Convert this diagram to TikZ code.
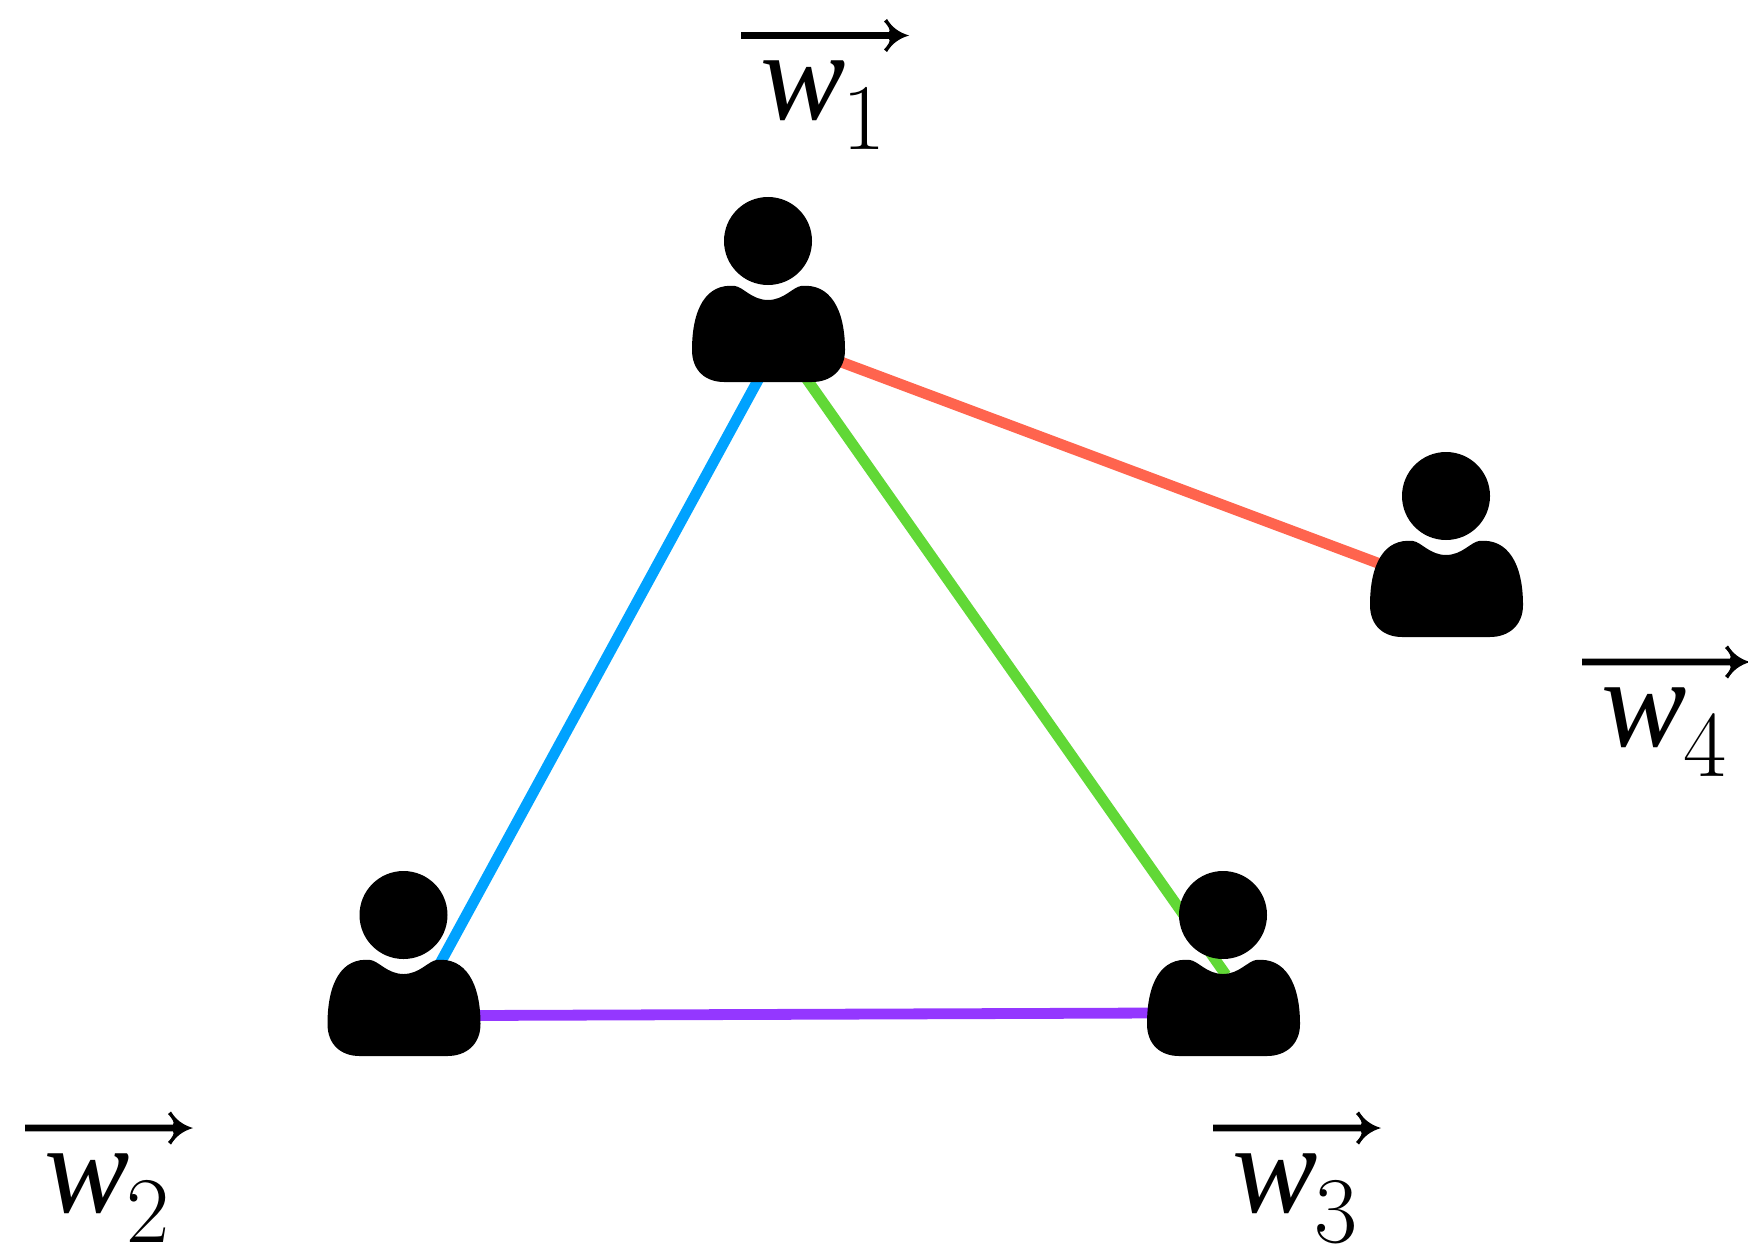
\documentclass[tikz,border=0pt]{standalone}
\usepackage{fontspec}
\newfontfamily\wfont{Liberation Serif Italic}
\definecolor{eblue}{HTML}{00A2FF}
\definecolor{egreen}{HTML}{61D836}
\definecolor{ered}{HTML}{FF644E}
\definecolor{epurple}{HTML}{9437FF}
\tikzset{
  spot/.style={inner sep=0pt,minimum size=0pt,outer sep=0pt},
  edgeline/.style={line width=5.4pt,line cap=butt},
  wtext/.style={inner sep=0pt,outer sep=0pt,anchor=base west,font=\fontsize{64}{70}\wfont},
  subtext/.style={inner sep=0pt,outer sep=0pt,anchor=base west,font=\fontsize{47}{52}\selectfont},
  person/.pic={
    \fill (0,0) circle[radius=44];
    \fill (-33,45) .. controls (-25,46) and (-16,59) .. (0,59)
      .. controls (16,59) and (25,46) .. (33,45)
      .. controls (62,42) and (77,68) .. (77,109)
      .. controls (77,130) and (62,141) .. (44,141)
      -- (-44,141)
      .. controls (-62,141) and (-76,130) .. (-76,109)
      .. controls (-76,68) and (-62,42) .. (-33,45) -- cycle;
  },
  pics/wlabel/.style={code={
    \fill (0,-3.4) -- (148,-3.4) .. controls (150,-5) and (147,-10) .. (143,-14)
      -- (146,-16.5) .. controls (151,-8) and (158,-3) .. (168,0)
      .. controls (158,3) and (151,8) .. (146,16.5)
      -- (143,14) .. controls (147,10) and (150,5) .. (148,3.4) -- (0,3.4) -- cycle;
    \node[wtext] (w) at (19,84) {w};
    \node[subtext] (s) at (101,114) {#1};
  }}
}
\begin{document}
\begin{tikzpicture}[x=0.5pt,y=-0.5pt]
\useasboundingbox (0,0) rectangle (1748,1246);
\node[spot] (p1) at (768,241) {};
\node[spot] (p2) at (403.5,915) {};
\node[spot] (p3) at (1223,915) {};
\node[spot] (p4) at (1446,496) {};
\draw[edgeline,eblue] ([shift={(-5,130)}]p1.center) -- ([shift={(34,53)}]p2.center);
\draw[edgeline,egreen] ([shift={(33,130)}]p1.center) -- ([shift={(3,60)}]p3.center);
\draw[edgeline,ered] ([shift={(65,118)}]p1.center) -- ([shift={(-55,72)}]p4.center);
\draw[edgeline,epurple] ([shift={(70,100.5)}]p2.center) -- ([shift={(-68,98)}]p3.center);
\pic at (p1) {person};
\pic at (p2) {person};
\pic at (p3) {person};
\pic at (p4) {person};
\pic (l1) at (741,35.5) {wlabel={1}};
\pic (l2) at (25,1128) {wlabel={2}};
\pic (l3) at (1213,1128) {wlabel={3}};
\pic (l4) at (1582,662) {wlabel={4}};
\end{tikzpicture}
\end{document}
